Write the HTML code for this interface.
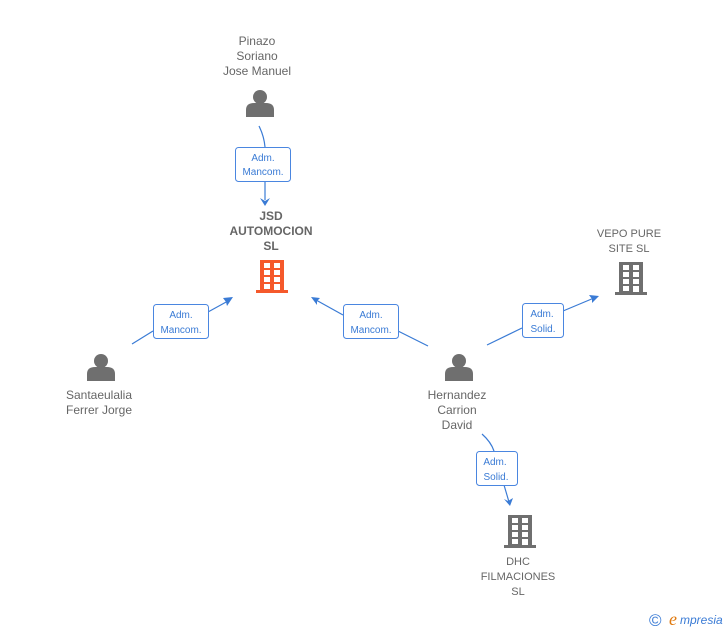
<!DOCTYPE html>
<html><head><meta charset="utf-8"><style>
html,body{margin:0;padding:0;background:#fff;}
svg{display:block;font-family:"Liberation Sans",Arial,sans-serif;}
.n{font-size:12px;fill:#666;text-anchor:middle;}
.b{font-weight:bold;}
.l{font-size:10px;fill:#3a7bd5;text-anchor:middle;}
.box{fill:#fff;stroke:#4a86e0;stroke-width:1;}
.ln{stroke:#3a7bd5;stroke-width:1.2;fill:none;}
.ar{fill:#3a7bd5;}
</style></head><body>
<svg width="728" height="630" viewBox="0 0 728 630">
<defs>
<g id="p"><circle cx="0" cy="-7" r="7" fill="#6f6f6f"/><path d="M-14 13 L-14 6 Q-14 -1 -6 -1 L6 -1 Q14 -1 14 6 L14 13 Z" fill="#6f6f6f"/></g>
<g id="bd"><rect x="4" y="0" width="24" height="30"/><rect x="0" y="30" width="32" height="3"/>
<g fill="#fff"><rect x="8" y="3" width="6" height="5"/><rect x="18" y="3" width="6" height="5"/><rect x="8" y="10" width="6" height="5"/><rect x="18" y="10" width="6" height="5"/><rect x="8" y="17" width="6" height="5"/><rect x="18" y="17" width="6" height="5"/><rect x="8" y="24" width="6" height="5"/><rect x="18" y="24" width="6" height="6"/></g></g>
</defs>

<path class="ln" d="M259 126 Q264 136 265 147"/><path class="ln" d="M265 181 L265 200"/>
<path class="ar" d="M260 198 L265 206 L270 198 L265 201 Z"/>
<path class="ln" d="M132 344 L153 331"/><path class="ln" d="M208 312 L228 301"/>
<path class="ar" d="M233 297 L223 298 L226 302 L227 306 Z"/>
<path class="ln" d="M428 346 L398 331"/><path class="ln" d="M343 315 L316 300"/>
<path class="ar" d="M311 297 L320 298 L317 301 L317 305 Z"/>
<path class="ln" d="M487 345 L522 328"/><path class="ln" d="M563 311 L594 298"/>
<path class="ar" d="M599 296 L589 295 L592 299 L592 303 Z"/>
<path class="ln" d="M482 434 Q491 442 494 451"/><path class="ln" d="M504 485 L509 502"/>
<path class="ar" d="M510 506 L504 499 L508 501 L513 498 Z"/>

<rect class="box" x="235.5" y="147.5" width="55" height="34" rx="3"/>
<text class="l" x="263" y="161">Adm.</text><text class="l" x="263" y="175">Mancom.</text>
<rect class="box" x="153.5" y="304.5" width="55" height="34" rx="3"/>
<text class="l" x="181" y="318">Adm.</text><text class="l" x="181" y="333">Mancom.</text>
<rect class="box" x="343.5" y="304.5" width="55" height="34" rx="3"/>
<text class="l" x="371" y="318">Adm.</text><text class="l" x="371" y="333">Mancom.</text>
<rect class="box" x="522.5" y="303.5" width="41" height="34" rx="3"/>
<text class="l" x="542" y="317">Adm.</text><text class="l" x="543" y="332">Solid.</text>
<rect class="box" x="476.5" y="451.5" width="41" height="34" rx="3"/>
<text class="l" x="495" y="465">Adm.</text><text class="l" x="496" y="480">Solid.</text>

<text class="n" x="257" y="45">Pinazo</text><text class="n" x="257" y="60">Soriano</text><text class="n" x="257" y="75">Jose Manuel</text>
<use href="#p" transform="translate(260,104)"/>

<text class="n b" x="271" y="220">JSD</text><text class="n b" x="271" y="235">AUTOMOCION</text><text class="n b" x="271" y="250">SL</text>
<use href="#bd" fill="#f5592b" transform="translate(256,260)"/>

<text class="n" x="629" y="237" style="font-size:11px">VEPO PURE</text><text class="n" x="629" y="252" style="font-size:11px">SITE  SL</text>
<use href="#bd" fill="#6f6f6f" transform="translate(615,262)"/>

<use href="#p" transform="translate(101,368)"/>
<text class="n" x="99" y="399">Santaeulalia</text><text class="n" x="99" y="414">Ferrer Jorge</text>

<use href="#p" transform="translate(459,368)"/>
<text class="n" x="457" y="399">Hernandez</text><text class="n" x="457" y="414">Carrion</text><text class="n" x="457" y="429">David</text>

<use href="#bd" fill="#6f6f6f" transform="translate(504,515)"/>
<text class="n" x="518" y="565" style="font-size:11px">DHC</text><text class="n" x="518" y="580" style="font-size:11px">FILMACIONES</text><text class="n" x="518" y="595" style="font-size:11px">SL</text>

<text x="649" y="626" style="font-size:17px;fill:#3a7bd5">©</text>
<text x="669" y="625" style="font-size:18px;fill:#e07a10;font-family:'Liberation Serif',serif;font-style:italic">e</text>
<text x="680" y="624" style="font-size:12px;fill:#3a7bd5;font-style:italic;font-family:'Liberation Sans',sans-serif">mpresia</text>
</svg>
</body></html>
